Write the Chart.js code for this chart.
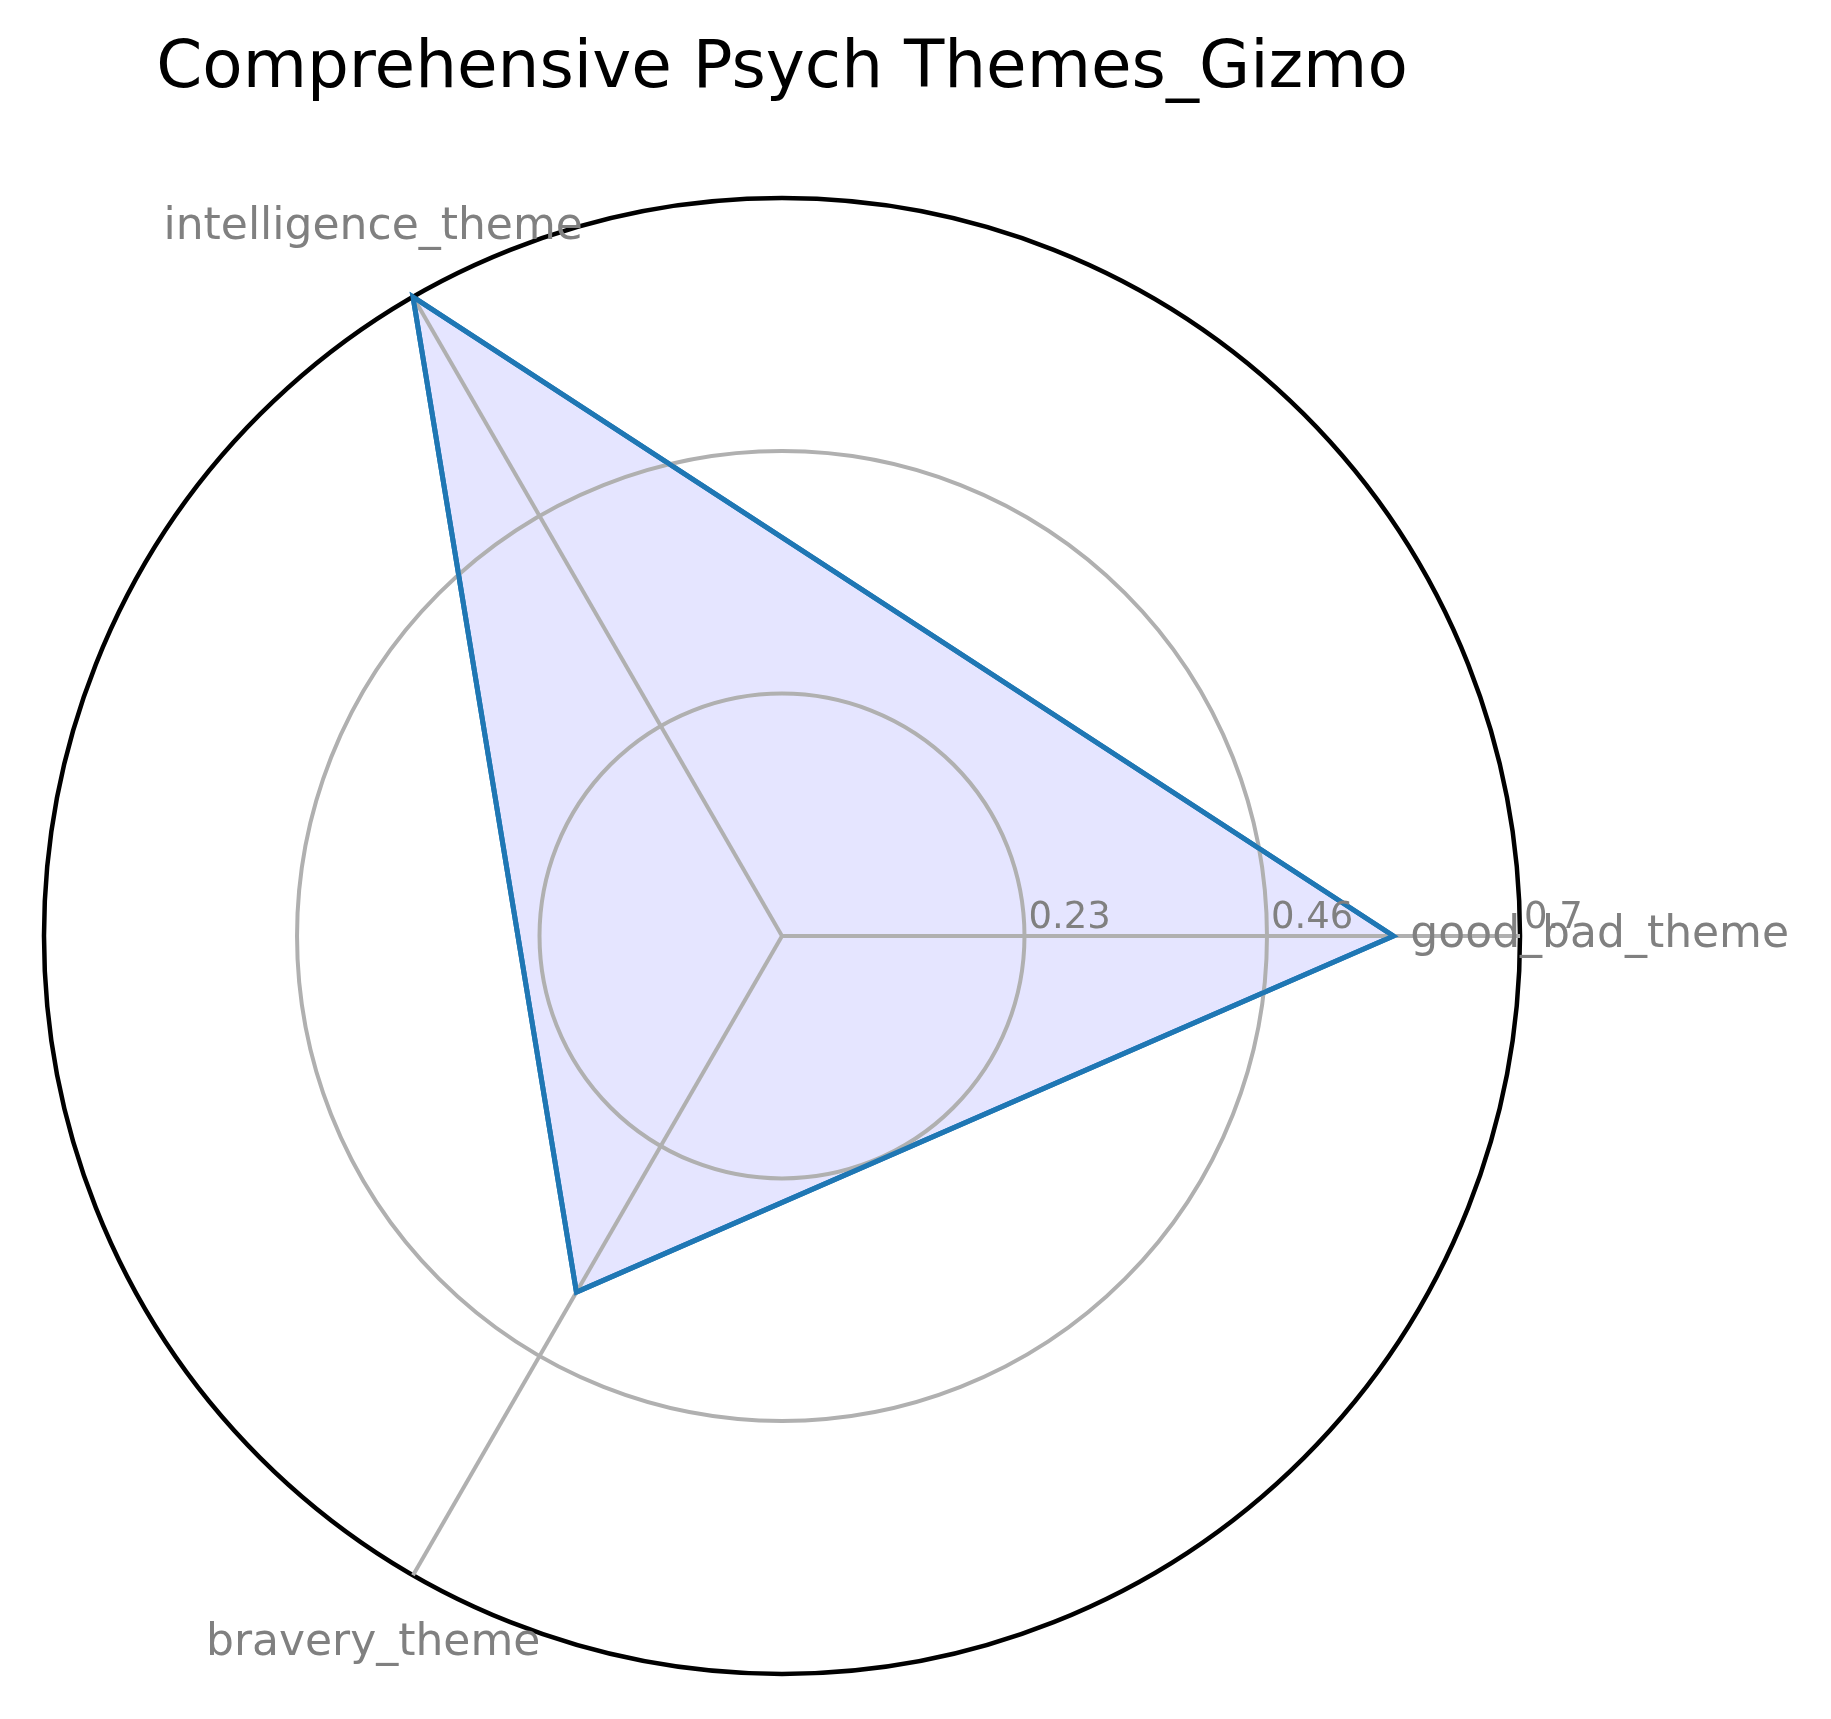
<!DOCTYPE html>
<html>
<head>
<meta charset="utf-8">
<style>
  html, body { margin: 0; padding: 0; background: #ffffff; }
  #c { display: block; }
</style>
<script src="https://cdn.jsdelivr.net/npm/chart.js@4/dist/chart.umd.min.js"></script>
</head>
<body>
<canvas id="c" width="1831" height="1719"></canvas>
<script>
// ---- data (ordered for Chart.js: right, lower-left, upper-left) ----
const chartTitle = 'Comprehensive Psych Themes_Gizmo';
const categories = ['good_bad_theme', 'bravery_theme', 'intelligence_theme'];
const seriesValues = [0.58, 0.39, 0.70];
const tickValues = [0, 0.23, 0.46, 0.7];
const tickLabels = ['', '0.23', '0.46', '0.7'];
const radialMax = 0.7;

Chart.defaults.font.family = 'DejaVu Sans';

const textPlugin = {
  id: 'mplText',
  afterDraw(chart) {
    const ctx = chart.ctx;
    const r = chart.scales.r;
    // redraw the outline above the grid (matplotlib: fill < grid < line)
    const meta = chart.getDatasetMeta(0);
    ctx.save();
    meta.dataset.draw(ctx, chart.chartArea);
    ctx.restore();

    ctx.save();
    // title
    ctx.fillStyle = '#000000';
    ctx.font = '66px "DejaVu Sans"';
    ctx.textAlign = 'center';
    ctx.textBaseline = 'alphabetic';
    ctx.fillText(chartTitle, r.xCenter, 87);
    // tick labels along the 0-degree axis
    ctx.fillStyle = '#808080';
    ctx.font = '37px "DejaVu Sans"';
    ctx.textAlign = 'left';
    tickValues.forEach((v, i) => {
      if (!tickLabels[i]) return;
      const d = r.getDistanceFromCenterForValue(v);
      ctx.fillText(tickLabels[i], r.xCenter + d + 4, r.yCenter - 8);
    });
    // category labels
    ctx.font = '44px "DejaVu Sans"';
    ctx.textAlign = 'center';
    const labelDist = r.drawingArea * 1.108;
    categories.forEach((c, i) => {
      const p = r.getPointPosition(i, labelDist);
      ctx.fillText(c, p.x, p.y + 11);
    });
    ctx.restore();
  }
};

new Chart(document.getElementById('c'), {
  type: 'radar',
  data: {
    labels: categories,
    datasets: [{
      data: seriesValues,
      borderColor: '#1f77b4',
      backgroundColor: 'rgba(0,0,255,0.1)',
      borderWidth: 5,
      borderJoinStyle: 'miter',
      pointRadius: 0,
      fill: true,
      tension: 0
    }]
  },
  options: {
    responsive: false,
    animation: false,
    layout: { padding: { left: 44, right: 311, top: 198, bottom: 45 } },
    plugins: { legend: { display: false }, tooltip: { enabled: false }, title: { display: false } },
    scales: {
      r: {
        min: 0,
        max: radialMax,
        startAngle: 90,
        afterBuildTicks: (scale) => { scale.ticks = tickValues.map(v => ({ value: v })); },
        ticks: { display: false },
        pointLabels: { display: false },
        grid: {
          z: 1,
          circular: true,
          color: (ctx) => (ctx.index === tickValues.length - 1 ? '#000000' : '#b0b0b0'),
          lineWidth: (ctx) => (ctx.index === tickValues.length - 1 ? 4.5 : 4)
        },
        angleLines: { display: true, color: '#b0b0b0', lineWidth: 4 }
      }
    }
  },
  plugins: [textPlugin]
});
</script>
</body>
</html>
